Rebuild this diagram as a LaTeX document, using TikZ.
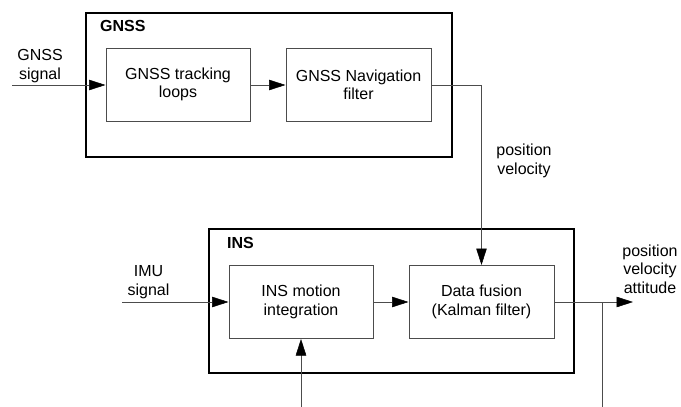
\documentclass[tikz,border=0pt]{standalone}
\usepackage{fontspec}
\setmainfont{Liberation Sans}
\usetikzlibrary{arrows.meta}
\definecolor{thinline}{gray}{0.3}
\tikzset{
  lbl/.style={inner sep=0pt, align=center, font=\fontsize{16}{18.4}\selectfont},
  grouplbl/.style={inner sep=0pt, anchor=west, font=\fontsize{16}{18.4}\selectfont\bfseries},
  groupbox/.style={draw=black, line width=2pt, minimum width=#1, minimum height=144pt, inner sep=0pt},
  blockbox/.style={draw=thinline, line width=1pt, minimum width=#1, minimum height=73pt, inner sep=0pt, align=center, font=\fontsize{16}{18.4}\selectfont},
  conn/.style={draw=thinline, line width=1pt},
  arr/.style={conn, -{Triangle[length=16.5pt,width=10.5pt,color=black,fill=black,line width=0.5pt]}},
}
\begin{document}
\begin{tikzpicture}[x=1pt,y=-1pt]
\useasboundingbox (0,0) rectangle (681,407);
% group boxes
\node[groupbox=366pt] (gnssbox) at (269,85) {};
\node[groupbox=365pt] (insbox) at (391.5,301) {};
\node[grouplbl] (gnsslbl) at (100,26) {GNSS};
\node[grouplbl] (inslbl) at (227,242.5) {INS};
% blocks
\node[blockbox=144pt] (track) at (178,84.5) {GNSS tracking\\loops};
\node[blockbox=145pt] (nav) at (358.5,84.5) {GNSS Navigation\\filter};
\node[blockbox=144pt] (motion) at (301,302) {INS motion\\integration};
\node[blockbox=145pt] (fusion) at (481.5,302) {Data fusion\\(Kalman filter)};
% labels
\node[lbl] (gnsssig) at (40,66) {GNSS\\signal};
\node[lbl] (imusig) at (148.5,282) {IMU\\signal};
\node[lbl] (posvel) at (524,161) {position\\velocity};
\node[lbl] (posvelatt) at (650,269) {position\\velocity\\attitude};
% coordinates
\coordinate (gin) at (12,85);
\coordinate (iin) at (122,302);
\coordinate (navturn) at (481.5,85);
\coordinate (outend) at (633,302);
\coordinate (branch) at (602,302);
\coordinate (branchend) at (602,407);
\coordinate (motionin) at (301,407);
% connectors
\draw[arr] (gin) -- (track.west |- gin);
\draw[arr] (track.east |- gin) -- (nav.west |- gin);
\draw[arr] (nav.east |- navturn) -- (navturn) -- (fusion.north);
\draw[arr] (iin) -- (motion.west |- iin);
\draw[arr] (motion.east) -- (fusion.west);
\draw[arr] (motionin) -- (motion.south);
\draw[arr] (fusion.east) -- (outend);
\draw[conn] (branch) -- (branchend);
\end{tikzpicture}
\end{document}
